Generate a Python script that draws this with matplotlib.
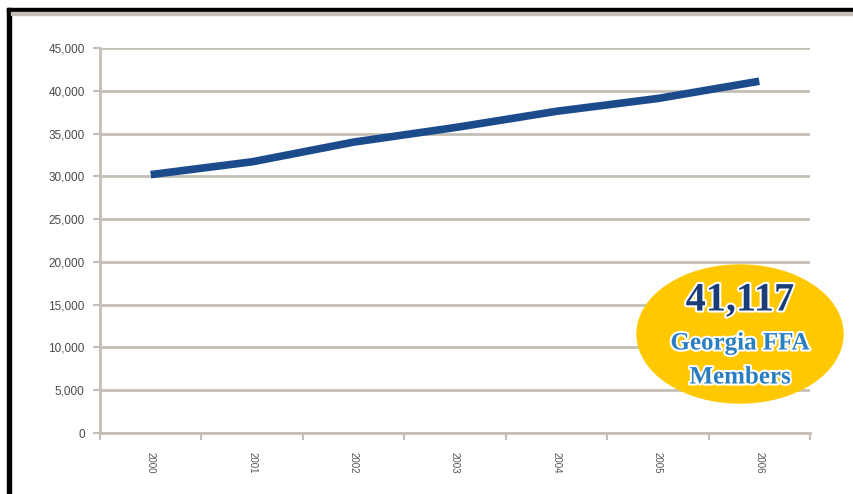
import matplotlib.pyplot as plt
from matplotlib.patches import Ellipse, Rectangle
import matplotlib.patheffects as pe

# Georgia FFA membership by year
years = ['2000', '2001', '2002', '2003', '2004', '2005', '2006']
members = [30200, 31700, 34000, 35700, 37600, 39100, 41117]
y_ticks = list(range(0, 45001, 5000))

fig = plt.figure(figsize=(8.54, 4.94), dpi=100)
ax = fig.add_axes([100 / 854, 1 - 433 / 494, 710 / 854, 385 / 494])

x = list(range(len(years)))
ax.plot(x, members, color='#1c4b8c', lw=5.5, solid_capstyle='butt')

ax.set_xlim(-0.5, len(years) - 0.5)
ax.set_ylim(0, 45000)
ax.set_yticks(y_ticks)
ax.set_yticklabels(['0' if v == 0 else f'{v:,}' for v in y_ticks],
                   fontsize=8.5, color='#4a4a4a', family='Liberation Sans')
ax.set_xticks(x)
ax.set_xticklabels(years, rotation=270, fontsize=7, color='#555555',
                   family='Liberation Sans')
ax.set_xticks([i - 0.5 for i in range(len(years) + 1)], minor=True)
ax.tick_params(axis='x', which='major', length=0, pad=14)
ax.tick_params(axis='x', which='minor', length=5, color='#c4beb6', width=1.5)
ax.tick_params(axis='y', length=5, color='#c4beb6', width=1.5, pad=6)

ax.grid(axis='y', color='#c4beb6', lw=2)
ax.set_axisbelow(True)
for s in ['top', 'right']:
    ax.spines[s].set_visible(False)
for s in ['left', 'bottom']:
    ax.spines[s].set_color('#c4beb6')
    ax.spines[s].set_linewidth(2)

# outer frame
fig.patches.append(Rectangle((7 / 854, 0), 4 / 854, 1 - 8 / 494,
                             transform=fig.transFigure, color='black', zorder=5))
fig.patches.append(Rectangle((7 / 854, 1 - 12 / 494), 1, 4 / 494,
                             transform=fig.transFigure, color='black', zorder=5))
fig.patches.append(Rectangle((11 / 854, 1 - 15 / 494), 1, 3 / 494,
                             transform=fig.transFigure, color='#c4beb6', zorder=5))

# callout bubble
fig.patches.append(Ellipse((740 / 854, 1 - 334 / 494), 206 / 854, 138 / 494,
                           transform=fig.transFigure, color='#ffc800', zorder=6))
outline = [pe.withStroke(linewidth=3, foreground='white')]
fig.text(740 / 854, 1 - 301 / 494, f'{members[-1]:,}', ha='center', va='center',
         fontsize=29, fontweight='bold', color='#1a3c78', family='Liberation Serif',
         path_effects=outline, zorder=7)
fig.text(740 / 854, 1 - 343 / 494, 'Georgia FFA', ha='center', va='center',
         fontsize=18, fontweight='bold', color='#2a7fc0', family='Liberation Serif',
         path_effects=outline, zorder=7)
fig.text(740 / 854, 1 - 377 / 494, 'Members', ha='center', va='center',
         fontsize=18, fontweight='bold', color='#2a7fc0', family='Liberation Serif',
         path_effects=outline, zorder=7)

fig.savefig('out.png', dpi=100)
